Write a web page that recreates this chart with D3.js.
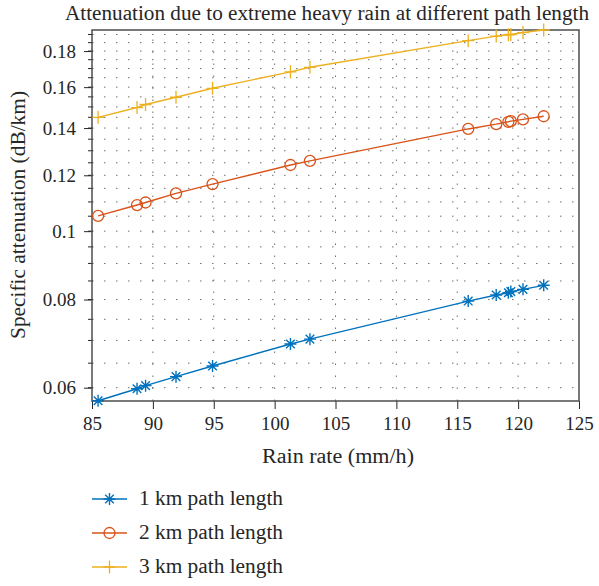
<!DOCTYPE html>
<html lang="en">
<head>
<meta charset="UTF-8">
<title>Attenuation due to extreme heavy rain</title>
<script src="https://d3js.org/d3.v7.min.js"></script>
<style>
  html, body { margin:0; padding:0; background:#fff; }
  svg text { font-family:"Liberation Serif","DejaVu Serif",serif; fill:#262626; }
  .grid line { stroke:#333; stroke-width:1; stroke-dasharray:1.5,10.5; opacity:0.7; }
</style>
</head>
<body>
<div id="chart"></div>
<script>
// rain rate (mm/h)
const rainRate=[85.5,88.7,89.4,91.9,94.9,101.3,102.9,115.9,118.2,119.2,119.4,120.4,122.1];
// specific attenuation (dB/km)
const path1km=[0.0575,0.0598,0.0604,0.0622,0.0644,0.0692,0.0703,0.0796,0.0812,0.0818,0.0821,0.0827,0.0838];
const path2km=[0.1051,0.1089,0.1098,0.1131,0.1166,0.1241,0.1258,0.1396,0.1418,0.1429,0.1432,0.1440,0.1455];
const path3km=[0.1450,0.1497,0.1512,0.1548,0.1594,0.1682,0.1707,0.1862,0.1890,0.1898,0.1900,0.1912,0.1928];
const seriesNames=["1 km path length","2 km path length","3 km path length"];
const xTicks=[85,90,95,100,105,110,115,120,125];
const yTicks=[0.06,0.08,0.1,0.12,0.14,0.16,0.18];
const yTickLabels=["0.06","0.08","0.1","0.12","0.14","0.16","0.18"];
const yMinor=[0.06,0.065,0.07,0.075,0.08,0.085,0.09,0.095,0.1,0.105,0.11,0.115,0.12,0.125,0.13,0.135,0.14,0.145,0.15,0.155,0.16,0.165,0.17,0.175,0.18,0.185,0.19];

const W=599,H=586;
const margin={top:30,right:20,bottom:185,left:92};
const colors=["#0072BD","#D95319","#EDB120"];
const markers=["star","circle","plus"];

const svg=d3.select("#chart").append("svg").attr("width",W).attr("height",H);
const x=d3.scaleLinear().domain([85,125]).range([margin.left,W-margin.right]);
const y=d3.scaleLog().domain([0.05745,0.1928]).range([H-margin.bottom,margin.top]);

// grid
const grid=svg.append("g").attr("class","grid");
grid.selectAll(".gy").data(yMinor).join("line").attr("class","gy")
  .attr("x1",x(85)).attr("x2",x(125)).attr("y1",d=>y(d)).attr("y2",d=>y(d));
grid.selectAll(".gx").data(xTicks.slice(1,-1)).join("line").attr("class","gx")
  .attr("x1",d=>x(d)).attr("x2",d=>x(d)).attr("y1",y.range()[0]).attr("y2",y.range()[1]);

// axes
const xAxis=svg.append("g").attr("transform","translate(0,"+(H-margin.bottom)+")")
  .call(d3.axisBottom(x).tickValues(xTicks).tickSize(8).tickPadding(8).tickFormat(d3.format("d")));
const yAxis=svg.append("g").attr("transform","translate("+margin.left+",0)")
  .call(d3.axisLeft(y).tickValues(yTicks).tickSize(8).tickPadding(8).tickFormat((d,i)=>yTickLabels[i]));
yAxis.selectAll(".minor").data(yMinor).join("line").attr("class","minor")
  .attr("x1",-4).attr("x2",1).attr("y1",d=>y(d)).attr("y2",d=>y(d))
  .attr("stroke","#262626");
[xAxis,yAxis].forEach(a=>{
  a.select(".domain").remove();
  a.selectAll(".tick line").attr("stroke","#262626");
  a.selectAll(".tick text").attr("font-size",19).attr("font-family","Liberation Serif, serif").attr("fill","#262626");
});
// box
svg.append("rect").attr("x",x(85)).attr("y",margin.top)
  .attr("width",x(125)-x(85)).attr("height",H-margin.bottom-margin.top)
  .attr("fill","none").attr("stroke","#4d4d4d").attr("stroke-width",1.5);

function drawMarker(g,type,color){
  if(type==="circle"){
    g.append("circle").attr("r",5.5).attr("fill","none").attr("stroke",color).attr("stroke-width",1.3);
  }else if(type==="plus"){
    g.append("path").attr("d","M-6,0H6M0,-6.5V6.5").attr("stroke",color).attr("stroke-width",1.3);
  }else{
    g.append("path").attr("d","M-6,0H6M0,-6V6M-4.3,-4.3L4.3,4.3M-4.3,4.3L4.3,-4.3").attr("stroke",color).attr("stroke-width",1.4);
  }
}

const allSeries=[path1km,path2km,path3km];
const line=d3.line().x((d,i)=>x(rainRate[i])).y(d=>y(d));
allSeries.forEach((vals,s)=>{
  svg.append("path").datum(vals).attr("d",line).attr("fill","none")
    .attr("stroke",colors[s]).attr("stroke-width",1.4);
  vals.forEach((v,i)=>{
    const g=svg.append("g").attr("transform","translate("+x(rainRate[i])+","+y(v)+")");
    drawMarker(g,markers[s],colors[s]);
  });
});

// labels
svg.append("text").attr("x",327).attr("y",20).attr("text-anchor","middle")
  .attr("font-size",20).attr("textLength",524).attr("lengthAdjust","spacingAndGlyphs")
  .text("Attenuation due to extreme heavy rain at different path length");
svg.append("text").attr("x",338).attr("y",463).attr("text-anchor","middle")
  .attr("font-size",20).attr("textLength",152).attr("lengthAdjust","spacingAndGlyphs")
  .text("Rain rate (mm/h)");
svg.append("text").attr("transform","translate(25,215) rotate(-90)")
  .attr("text-anchor","middle").attr("font-size",20).attr("textLength",248).attr("lengthAdjust","spacingAndGlyphs")
  .text("Specific attenuation (dB/km)");

// legend
const leg=svg.append("g");
seriesNames.forEach((name,s)=>{
  const ly=499+s*34;
  leg.append("line").attr("x1",92).attr("x2",127).attr("y1",ly).attr("y2",ly)
    .attr("stroke",colors[s]).attr("stroke-width",1.4);
  drawMarker(leg.append("g").attr("transform","translate(109.5,"+ly+")"),markers[s],colors[s]);
  leg.append("text").attr("x",139).attr("y",ly+6).attr("font-size",20)
    .attr("textLength",144).attr("lengthAdjust","spacingAndGlyphs").text(name);
});
</script>
</body>
</html>
